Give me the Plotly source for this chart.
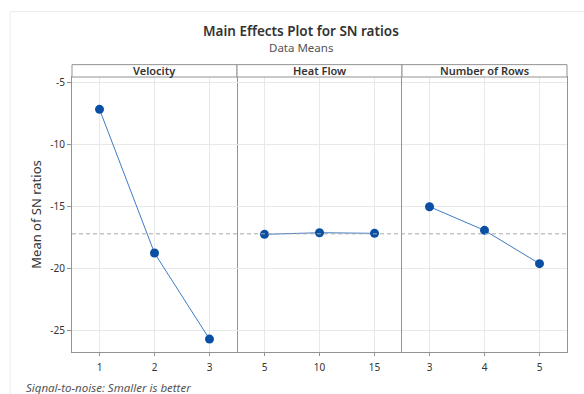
import plotly.graph_objects as go
from plotly.subplots import make_subplots

# Factor levels and mean S/N ratio at each level
factors = ["Velocity", "Heat Flow", "Number of Rows"]
velocity_levels = [1, 2, 3]
velocity_sn = [-7.16, -18.76, -25.71]
heatflow_levels = [5, 10, 15]
heatflow_sn = [-17.25, -17.12, -17.17]
rows_levels = [3, 4, 5]
rows_sn = [-15.02, -16.93, -19.62]

y_ticks = [-5, -10, -15, -20, -25]
y_range = [-26.75, -4.55]

levels = [velocity_levels, heatflow_levels, rows_levels]
values = [velocity_sn, heatflow_sn, rows_sn]
x_ranges = [[0.5, 3.5], [2.5, 17.5], [2.5, 5.5]]

grand_mean = sum(velocity_sn) / len(velocity_sn)

FONT = "Noto Sans"
FRAME = "#939393"
GRID = "#e8e8e8"
MARKER = "#0a4fa3"
LINE = "#3f7cc4"

fig = make_subplots(rows=1, cols=3, shared_yaxes=True, horizontal_spacing=0)

for i, (lv, vals) in enumerate(zip(levels, values), start=1):
    fig.add_trace(
        go.Scatter(
            x=lv, y=vals, mode="lines+markers",
            line=dict(color=LINE, width=1),
            marker=dict(color=MARKER, size=9),
            showlegend=False, hoverinfo="x+y",
        ),
        row=1, col=i,
    )
    fig.update_xaxes(
        range=x_ranges[i - 1], tickvals=lv, ticktext=[str(v) for v in lv],
        showgrid=True, gridcolor=GRID, gridwidth=1, zeroline=False,
        showline=True, linecolor=FRAME, linewidth=1, mirror=True,
        ticks="outside", ticklen=3, tickcolor=FRAME, ticklabelstandoff=3,
        tickfont=dict(family=FONT, size=10, color="#333333"),
        row=1, col=i,
    )
    fig.update_yaxes(
        range=y_range, tickvals=y_ticks, ticktext=[str(v) for v in y_ticks],
        showgrid=True, gridcolor=GRID, gridwidth=1, zeroline=False,
        showline=(i != 2), linecolor=FRAME, linewidth=1, mirror=(i != 2),
        ticks="outside" if i == 1 else "", ticklen=4, tickcolor=FRAME,
        showticklabels=(i == 1),
        tickfont=dict(family=FONT, size=10, color="#333333"),
        row=1, col=i,
    )

fig.update_yaxes(
    title=dict(text="Mean of SN ratios", standoff=5,
               font=dict(family=FONT, size=13, color="#333333")),
    row=1, col=1,
)

# Grand mean reference line across all panels
fig.add_shape(type="line", xref="paper", yref="y", x0=0, x1=1,
              y0=grand_mean, y1=grand_mean,
              line=dict(color="#a8a8a8", width=1, dash="4px,3px"))

# Panel header strips
strip_h = 0.045
domains = [fig.layout.xaxis.domain, fig.layout.xaxis2.domain, fig.layout.xaxis3.domain]
for name, dom in zip(factors, domains):
    fig.add_shape(type="rect", xref="paper", yref="paper",
                  x0=dom[0], x1=dom[1], y0=1, y1=1 + strip_h,
                  line=dict(color=FRAME, width=1), fillcolor="white")
    fig.add_annotation(text=name, xref="paper", yref="paper",
                       x=(dom[0] + dom[1]) / 2, y=1 + strip_h / 2,
                       xanchor="center", yanchor="middle", showarrow=False,
                       font=dict(family=FONT, size=11, color="#333333", weight=600))

# Outer frame
fig.add_shape(type="rect", xref="paper", yref="paper",
              x0=-0.125, x1=1.2, y0=-0.3, y1=1.238,
              line=dict(color="#ececec", width=1), layer="below")

fig.add_annotation(text="Main Effects Plot for SN ratios", xref="paper", yref="paper",
                   x=0.462, y=1.168, xanchor="center", yanchor="middle", showarrow=False,
                   font=dict(family=FONT, size=13.5, color="#333333", weight=600))
fig.add_annotation(text="Data Means", xref="paper", yref="paper",
                   x=0.462, y=1.107, xanchor="center", yanchor="middle", showarrow=False,
                   font=dict(family=FONT, size=11.5, color="#555555"))
fig.add_annotation(text="<i>Signal-to-noise: Smaller is better</i>", xref="paper", yref="paper",
                   x=-0.097, y=-0.13, xanchor="left", yanchor="middle", showarrow=False,
                   font=dict(family=FONT, size=11.5, color="#555555"))

fig.update_layout(
    width=584, height=394,
    margin=dict(l=72, r=17, t=77, b=42),
    paper_bgcolor="white", plot_bgcolor="white",
)

fig.write_html("out.html")
